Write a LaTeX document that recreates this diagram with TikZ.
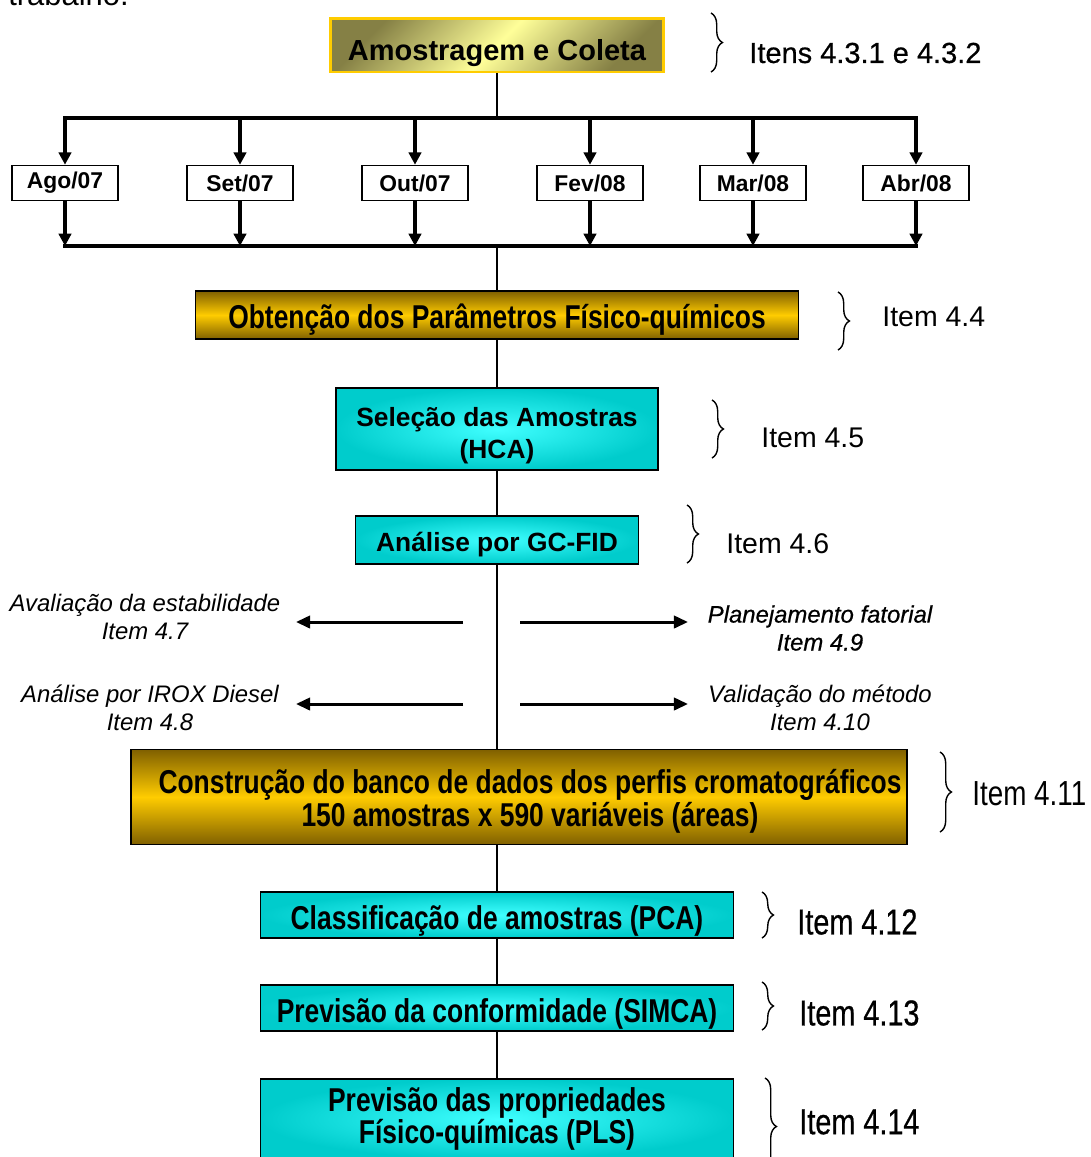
\documentclass[tikz,border=0pt]{standalone}
\usepackage{fontspec}
\setmainfont{Liberation Sans}
\newfontfamily\narrowfont[FakeStretch=0.8]{Liberation Sans}
\newfontfamily\heavyfont[FakeBold=0.6]{Liberation Sans}
\newfontfamily\heavynarrow[FakeStretch=0.8,FakeBold=0.6]{Liberation Sans}
\usetikzlibrary{arrows.meta,decorations.pathreplacing,positioning}

\definecolor{golddark}{HTML}{806000}
\definecolor{goldmid}{HTML}{FFCC00}
\definecolor{olivedark}{HTML}{858045}
\definecolor{lightyel}{HTML}{FFFF99}
\definecolor{cyanout}{HTML}{00CCCC}
\definecolor{cyanin}{HTML}{40FFFF}

\tikzset{
  topbox/.style={draw=goldmid, line width=1.7pt, top color=olivedark, bottom color=olivedark,
    middle color=lightyel, shading angle=45, inner sep=0pt, text height=17.5pt, text depth=0pt,
    font=\fontsize{16.5}{19}\selectfont\bfseries},
  goldbox/.style={draw=black, line width=1pt, top color=golddark, bottom color=golddark,
    middle color=goldmid, inner sep=0pt, align=center,
    font=\narrowfont\fontsize{18.8}{17.2}\selectfont\bfseries},
  cyanbox/.style={draw=black, line width=1pt, inner color=cyanin, outer color=cyanout,
    inner sep=0pt, align=center, font=\fontsize{15}{18.2}\selectfont\bfseries},
  narrowcyan/.style={cyanbox, font=\narrowfont\fontsize{18.8}{18.2}\selectfont\bfseries},
  monthbox/.style={draw=black, fill=white, line width=0.9pt, minimum width=2.12cm,
    minimum height=0.7cm, inner sep=0pt, font=\fontsize{13}{15}\selectfont\bfseries},
  spine/.style={line width=1.7pt},
  bus/.style={line width=2.4pt, line cap=rect},
  drop/.style={line width=2.4pt, -{Triangle[length=7pt,width=7pt]}},
  side/.style={line width=1.7pt, -{Triangle[length=8pt,width=7pt]}},
  itembrace/.style={decorate, decoration={brace, amplitude=6.5pt}, line width=0.8pt},
  itemlabel/.style={anchor=west, inner sep=0pt, font=\fontsize{16.2}{19}\selectfont},
  bigitem/.style={anchor=west, inner sep=0pt, font=\heavynarrow\fontsize{20.5}{22}\selectfont},
  note/.style={align=center, inner sep=0pt, font=\fontsize{13.6}{15.9}\selectfont\itshape}
}

\begin{document}
\begin{tikzpicture}[x=0.02cm, y=-0.02cm]
\useasboundingbox (0,0) rectangle (1091,1157);

\node[anchor=base west, inner sep=0pt, font=\fontsize{17.6}{20}\selectfont] (cap) at (8,5) {trabalho.};

\node[topbox, minimum width=6.66cm, minimum height=1.08cm] (amo) at (497,45) {Amostragem e Coleta};

\node[monthbox] (ago) at (65,183) {Ago/07};
\node[monthbox] (set) at (240,183) {Set/07};
\node[monthbox] (out) at (415,183) {Out/07};
\node[monthbox] (fev) at (590,183) {Fev/08};
\node[monthbox] (mar) at (753,183) {Mar/08};
\node[monthbox] (abr) at (916,183) {Abr/08};

\coordinate (tl) at (65,118);
\coordinate (tr) at (916,118);
\coordinate (tm) at (497,118);
\coordinate (bl) at (65,246);
\coordinate (br) at (916,246);
\coordinate (bm) at (497,246);

\draw[spine] (amo) -- (tm);
\draw[bus] (tl) -- (tr);
\draw[drop] (ago |- tl) -- (ago);
\draw[drop] (set |- tl) -- (set);
\draw[drop] (out |- tl) -- (out);
\draw[drop] (fev |- tl) -- (fev);
\draw[drop] (mar |- tl) -- (mar);
\draw[drop] (abr |- tl) -- (abr);
\draw[drop] (ago) -- (ago |- bl);
\draw[drop] (set) -- (set |- bl);
\draw[drop] (out) -- (out |- bl);
\draw[drop] (fev) -- (fev |- bl);
\draw[drop] (mar) -- (mar |- bl);
\draw[drop] (abr) -- (abr |- bl);
\draw[bus] (bl) -- (br);

\node[goldbox, minimum width=12.06cm, minimum height=0.96cm, text height=15.8pt, text depth=0pt] (obt) at (497,315) {Obtenção dos Parâmetros Físico-químicos};
\node[cyanbox, minimum width=6.44cm, minimum height=1.64cm, text height=33.6pt, text depth=0pt] (sel) at (497,429) {Seleção das Amostras\\(HCA)};
\node[cyanbox, minimum width=5.66cm, minimum height=0.96cm, text height=13pt, text depth=0pt] (gc) at (497,540) {Análise por GC-FID};
\node[goldbox, minimum width=15.52cm, minimum height=1.9cm, text height=34pt, text depth=0pt] (cons) at (519,797) {\hspace*{0.44cm}Construção do banco de dados dos perfis cromatográficos\\\hspace*{0.44cm}150 amostras x 590 variáveis (áreas)};
\node[narrowcyan, minimum width=9.46cm, minimum height=0.92cm, text height=17pt, text depth=0pt] (pca) at (497,915) {Classificação de amostras (PCA)};
\node[narrowcyan, minimum width=9.46cm, minimum height=0.92cm, text height=16.4pt, text depth=0pt] (simca) at (497,1008) {Previsão da conformidade (SIMCA)};
\node[narrowcyan, minimum width=9.46cm, minimum height=1.6cm, text height=28.4pt, text depth=0pt] (pls) at (497,1119) {Previsão das propriedades\\Físico-químicas (PLS)};

\draw[spine] (bm) -- (obt);
\draw[spine] (obt) -- (sel);
\draw[spine] (sel) -- (gc);
\draw[spine] (gc) -- (gc |- cons.north);
\draw[spine] (cons.south -| pca) -- (pca);
\draw[spine] (pca) -- (simca);
\draw[spine] (simca) -- (pls);

\node[note] (aval) at (145,617) {Avaliação da estabilidade\\Item 4.7};
\node[note] (irox) at (150,708) {Análise por IROX Diesel\\Item 4.8};
\node[note, font=\heavyfont\fontsize{13.6}{15.9}\selectfont\itshape] (plan) at (820,628) {Planejamento fatorial\\Item 4.9};
\node[note] (valid) at (820,708) {Validação do método\\Item 4.10};

\coordinate (l1s) at (463,622);
\coordinate (l1e) at (296,622);
\coordinate (l2s) at (463,704);
\coordinate (l2e) at (296,704);
\coordinate (r1s) at (520,622);
\coordinate (r1e) at (688,622);
\coordinate (r2s) at (520,704);
\coordinate (r2e) at (688,704);
\draw[side] (l1s) -- (l1e);
\draw[side] (l2s) -- (l2e);
\draw[side] (r1s) -- (r1e);
\draw[side] (r2s) -- (r2e);

\draw[itembrace] (711,13) -- (711,72);
\node[itemlabel, font=\heavyfont\fontsize{16.5}{19}\selectfont] (i43) at (749,53) {Itens 4.3.1 e 4.3.2};
\draw[itembrace] (838,292) -- (838,350);
\node[itemlabel] (i44) at (882,317) {Item 4.4};
\draw[itembrace] (712,400) -- (712,458);
\node[itemlabel] (i45) at (761,438) {Item 4.5};
\draw[itembrace] (687,505) -- (687,563);
\node[itemlabel] (i46) at (726,544) {Item 4.6};
\draw[itembrace] (940,752) -- (940,832);
\node[bigitem, font=\narrowfont\fontsize{19.8}{22}\selectfont] (i411) at (972,794) {Item 4.11};
\draw[itembrace] (762,892) -- (762,938);
\node[bigitem] (i412) at (797,922) {Item 4.12};
\draw[itembrace] (762,982) -- (762,1030);
\node[bigitem] (i413) at (799,1013) {Item 4.13};
\draw[itembrace] (765,1078) -- (765,1175);
\node[bigitem] (i414) at (799,1122) {Item 4.14};
\end{tikzpicture}
\end{document}
